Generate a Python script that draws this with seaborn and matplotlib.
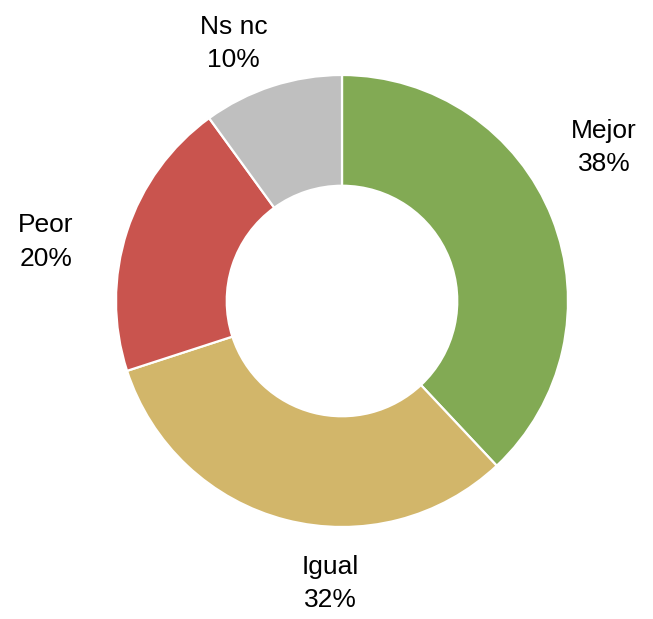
import matplotlib
matplotlib.use('Agg')
import matplotlib.pyplot as plt
import seaborn as sns

categories = ['Mejor', 'Igual', 'Peor', 'Ns nc']
values = [38, 32, 20, 10]
colors = ['#82AA54', '#D2B66A', '#C9544E', '#BFBFBF']
# label centres (pie units) as placed in the original
label_pos = [(1.16, 0.68), (-0.05, -1.25), (-1.31, 0.26), (-0.48, 1.14)]

sns.set_theme(style="white")
plt.rcParams['font.family'] = ['Liberation Sans', 'DejaVu Sans']

fig = plt.figure(figsize=(6.53, 6.19), dpi=100)
ax = fig.add_axes([0, 0, 1, 1])

wedges, _ = ax.pie(values, colors=colors, startangle=90, counterclock=False,
                   radius=1.0, wedgeprops=dict(width=0.49, edgecolor='white', linewidth=1.6))

for cat, val, (x, y) in zip(categories, values, label_pos):
    ax.text(x, y, "%s\n%d%%" % (cat, val), ha='center', va='center',
            fontsize=19, linespacing=1.5, color='black')

ax.set_aspect('equal')
ax.set_xlim(-342 / 226, (653 - 342) / 226)
ax.set_ylim(-(619 - 301) / 226, 301 / 226)
ax.axis('off')

fig.savefig("out.png", dpi=100)
